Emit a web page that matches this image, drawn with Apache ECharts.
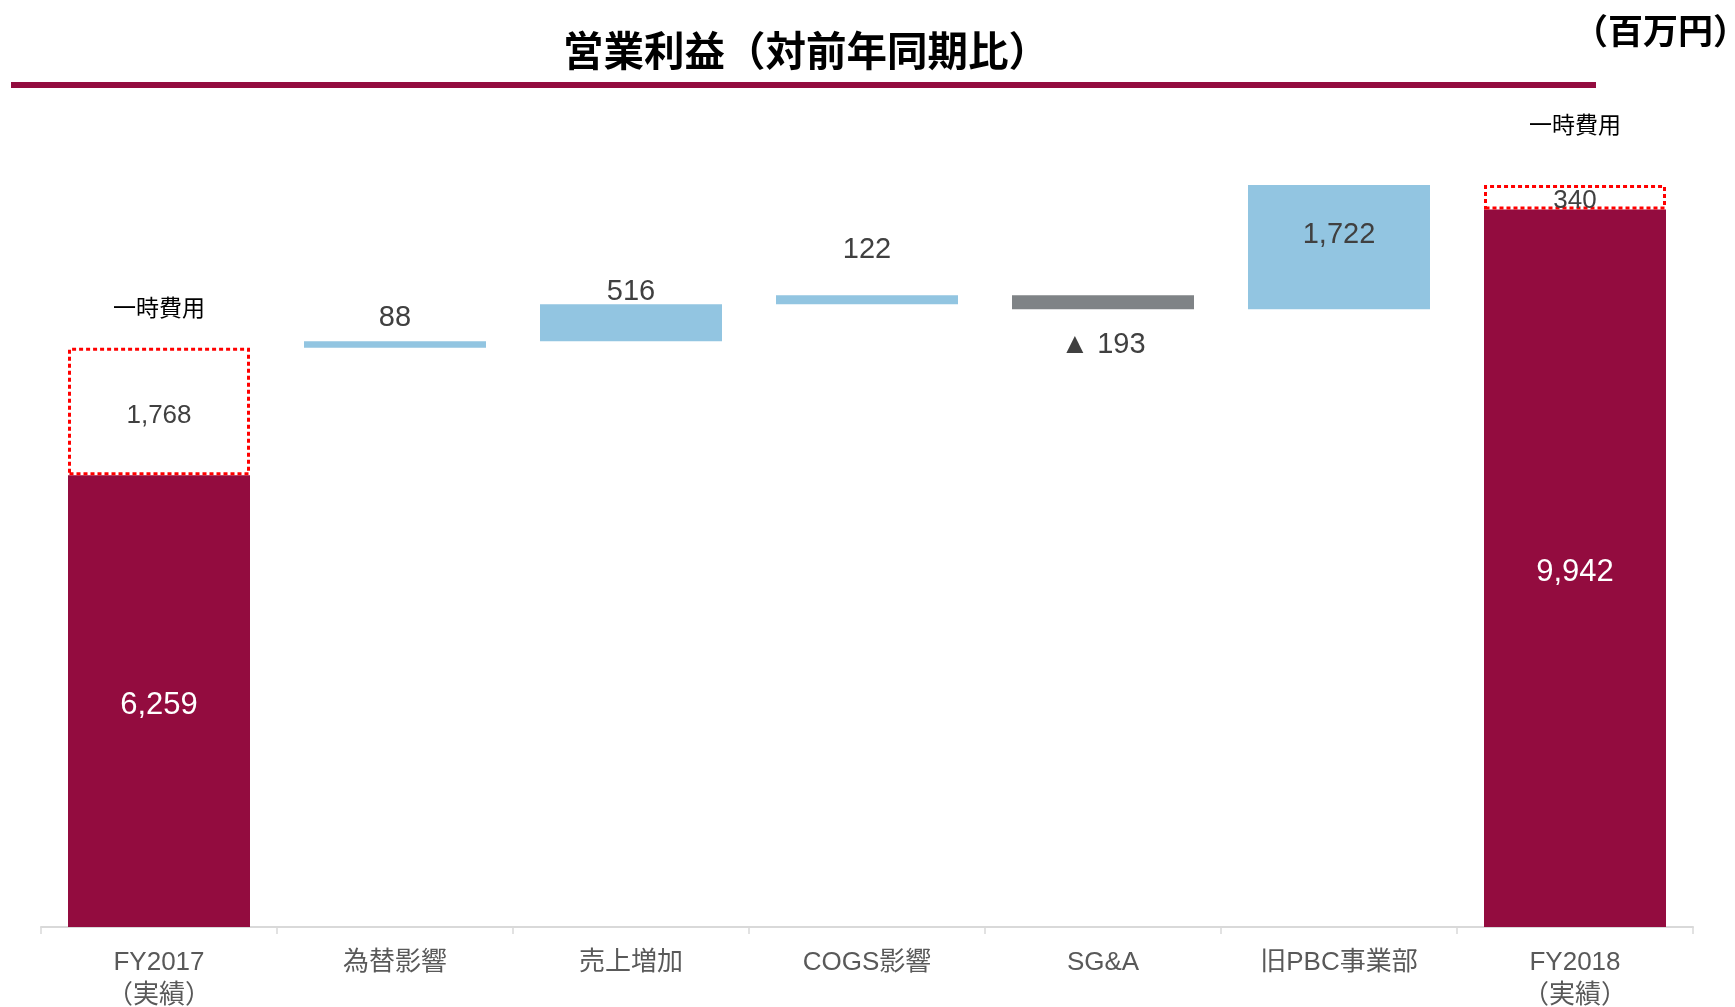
<!DOCTYPE html>
<html>
<head>
<meta charset="utf-8">
<script src="https://cdn.jsdelivr.net/npm/echarts@6/dist/echarts.min.js"></script>
<style>
html,body{margin:0;padding:0;background:#fff;}
#chart{width:1735px;height:1007px;}
</style>
</head>
<body>
<div id="chart"></div>
<script>
// ---- data ----
const categories = ['FY2017\n（実績）', '為替影響', '売上増加', 'COGS影響', 'SG&A', '旧PBC事業部', 'FY2018\n（実績）'];
const totals = [6259, null, null, null, null, null, 9942];
const oneTimeCosts = [1768, null, null, null, null, null, 340];
const deltas = [null, 88, 516, 122, -193, 1722, null];
const oneTimeLabel = '一時費用';
const titleText = '営業利益（対前年同期比）';
const unitText = '（百万円）';

// ---- derived waterfall layout ----
const placeholder = [];
const deltaBars = [];
let running = 0;
for (let i = 0; i < categories.length; i++) {
  if (totals[i] != null) {
    placeholder.push(0);
    deltaBars.push('-');
    running = totals[i] + (oneTimeCosts[i] || 0);
  } else {
    const d = deltas[i];
    const end = running + d;
    placeholder.push(Math.min(running, end));
    deltaBars.push(Math.abs(d));
    running = end;
  }
}

const fmt = v => Number(v).toLocaleString('en-US');
const FONT = "'Liberation Sans', 'Noto Sans CJK JP', sans-serif";
const CJK = "'Noto Sans CJK JP', sans-serif";
const MAROON = '#930C3F';
const BLUE = '#92C5E1';
const GRAY = '#7F8386';

// label styles per delta item (style only)
const deltaLabelStyles = [
  null,
  { position: 'top', distance: 9 },
  { position: 'top', distance: -2 },
  { position: 'top', distance: 31 },
  { position: 'bottom', distance: 21 },
  { position: 'insideTop', distance: 36 },
  null
];
const holderDistances = [29, null, null, null, null, null, 49];

const deltaData = deltaBars.map((v, i) => {
  if (v === '-') return '-';
  const neg = deltas[i] < 0;
  return {
    value: v,
    itemStyle: { color: neg ? GRAY : BLUE },
    label: Object.assign({
      show: true,
      formatter: () => (neg ? '▲ ' : '') + fmt(Math.abs(deltas[i]))
    }, deltaLabelStyles[i])
  };
});

const holderData = oneTimeCosts.map((v, i) => v == null ? '-' : {
  value: 0,
  label: { show: true, position: 'top', distance: holderDistances[i] }
});

const chart = echarts.init(document.getElementById('chart'), null, { renderer: 'canvas' });
chart.setOption({
  animation: false,
  backgroundColor: '#fff',
  textStyle: { fontFamily: FONT },
  grid: { left: 41, right: 42, top: 61, bottom: 80, containLabel: false, outerBoundsMode: 'none' },
  xAxis: {
    type: 'category',
    data: categories,
    axisLine: { lineStyle: { color: '#D9D9D9', width: 2 } },
    axisTick: { show: true, length: 7, lineStyle: { color: '#D9D9D9', width: 1.5 } },
    axisLabel: { interval: 0, fontSize: 26, color: '#595959', margin: 19, lineHeight: 33, fontFamily: FONT }
  },
  yAxis: { type: 'value', min: 0, max: 12000, show: false, splitLine: { show: false } },
  graphic: [
    { type: 'text', x: 806, y: 51,
      style: { text: titleText, fontSize: 40.5, fontWeight: 'bold', fill: '#000', fontFamily: CJK, textAlign: 'center', textVerticalAlign: 'middle' } },
    { type: 'rect', shape: { x: 11, y: 82, width: 1585, height: 6 }, style: { fill: MAROON } },
    { type: 'text', x: 1748, y: 31,
      style: { text: unitText, fontSize: 35, fontWeight: 'bold', fill: '#000', fontFamily: CJK, textAlign: 'right', textVerticalAlign: 'middle' } }
  ],
  series: [
    {
      name: 'placeholder', type: 'bar', stack: 'w', barWidth: 182,
      itemStyle: { color: 'transparent' }, emphasis: { disabled: true },
      data: placeholder
    },
    {
      name: 'total', type: 'bar', stack: 'w', barWidth: 182,
      itemStyle: { color: MAROON },
      label: { show: true, position: 'inside', offset: [0, 4], color: '#fff', fontSize: 31, fontFamily: FONT, formatter: p => fmt(p.value) },
      data: totals.map(v => v == null ? '-' : v)
    },
    {
      name: 'oneTime', type: 'bar', stack: 'w', barWidth: 182,
      itemStyle: { color: 'rgba(255,255,255,0)', borderColor: '#FF0000', borderWidth: 3, borderType: [4, 3] },
      label: { show: true, position: 'inside', offset: [0, 4], color: '#404040', fontSize: 26, fontFamily: FONT, formatter: p => fmt(p.value) },
      data: oneTimeCosts.map(v => v == null ? '-' : v)
    },
    {
      name: 'delta', type: 'bar', stack: 'w', barWidth: 182,
      label: { show: true, color: '#404040', fontSize: 29, fontFamily: FONT },
      data: deltaData
    },
    {
      name: 'holder', type: 'bar', stack: 'w', barWidth: 182,
      itemStyle: { color: 'transparent' },
      label: { show: true, color: '#000', fontSize: 23, fontFamily: CJK, formatter: () => oneTimeLabel },
      data: holderData
    }
  ]
});
</script>
</body>
</html>
